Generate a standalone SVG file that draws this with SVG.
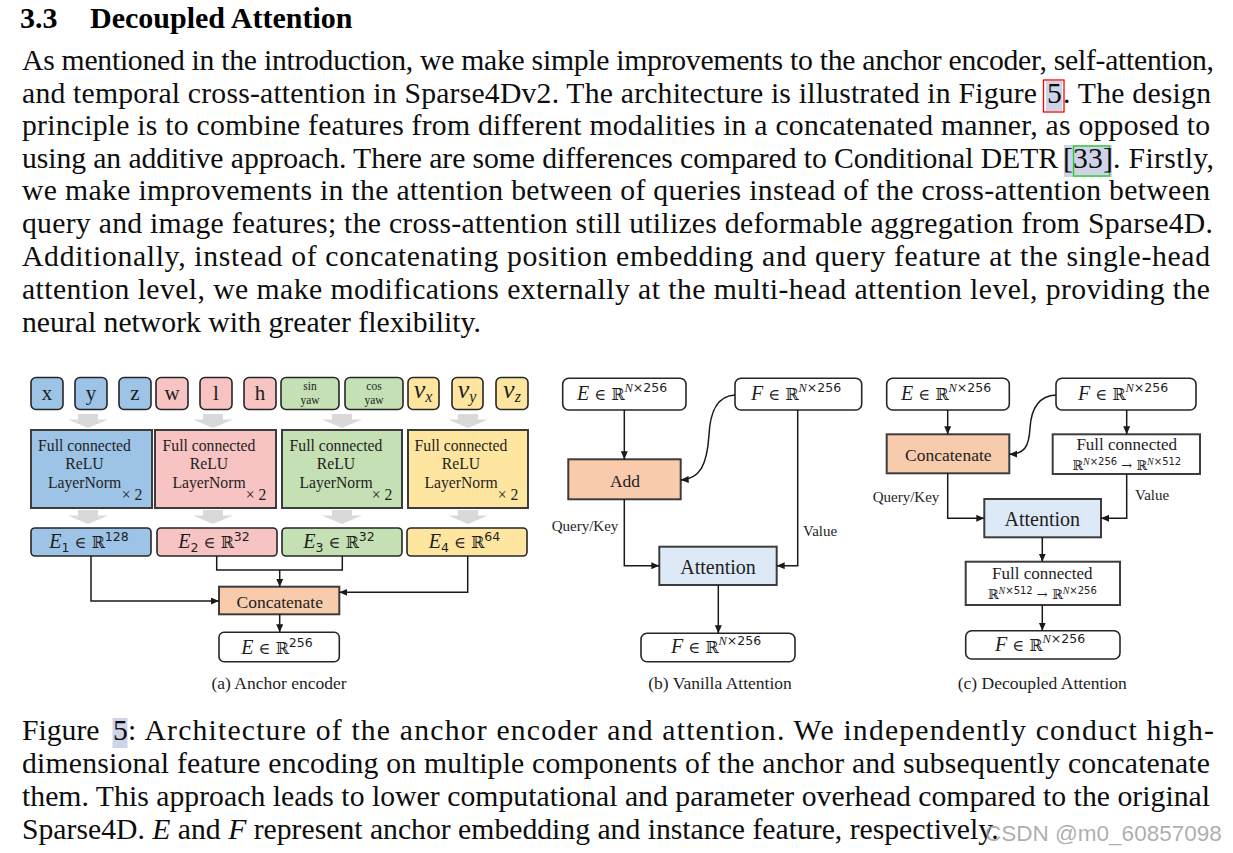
<svg xmlns="http://www.w3.org/2000/svg" width="1233" height="853" viewBox="0 0 1233 853">
<style>
.b{font-family:"Liberation Serif",serif;font-size:29.7px;fill:#0d0d0d}
.hd{font-family:"Liberation Serif",serif;font-size:30px;font-weight:bold;fill:#000}
.it{font-style:italic}
.t{font-family:"Liberation Serif",serif;fill:#1e1e1e}
.lbl{font-size:21px;text-anchor:middle}
.sy{font-size:11.5px;text-anchor:middle}
.fc{font-size:15.7px;text-anchor:middle}
.cap{font-size:17.5px;text-anchor:middle}
.ql{font-size:15px}
.mt{font-family:"DejaVu Serif",serif;font-size:16px;fill:#1e1e1e}
.mts{font-family:"DejaVu Serif",serif;font-size:13px;fill:#1e1e1e}
.mi{font-family:"Liberation Serif",serif;font-style:italic;font-size:20px}
.sup{font-family:"DejaVu Sans",sans-serif;font-size:12.5px}
.sups{font-family:"DejaVu Sans",sans-serif;font-size:10px}
.supi{font-family:"Liberation Serif",serif;font-style:italic}
.v{font-family:"Liberation Serif",serif;font-style:italic;font-size:26px;fill:#1e1e1e;text-anchor:middle}
.vs{font-size:16px}
.rb{stroke:#262626;stroke-width:1.6}
.sq{stroke:#3c3c3c;stroke-width:2}
.blue{fill:#9dc3e6}.pink{fill:#f7c3c3}.green{fill:#c5e0b4}.yel{fill:#ffe6a0}
.org{fill:#f8cbad}.att{fill:#dde9f6}.wh{fill:#fff}
.gar{fill:#d9d9d9}
.e{fill:none;stroke:#1a1a1a;stroke-width:1.5;marker-end:url(#ah)}
.ln{fill:none;stroke:#1a1a1a;stroke-width:1.5}
.hl{fill:#cfd3e8}
.wm{font-family:"Liberation Sans",sans-serif;font-size:22.5px;fill:#a0a0a0;fill-opacity:0.85}
</style>
<defs>
<marker id="ah" markerUnits="userSpaceOnUse" markerWidth="9" markerHeight="8" refX="8" refY="3.5" orient="auto"><path d="M0,0 L8,3.5 L0,7 Z" fill="#1a1a1a"/></marker>
<path id="garrow" d="M-10,0 H10 V5.5 H20 L0,14 L-20,5.5 H-10 Z"/>
</defs>
<rect width="1233" height="853" fill="#fff"/>

<g id="text-body">
<text class="hd" x="20" y="28">3.3</text>
<text class="hd" x="90" y="28">Decoupled Attention</text>
<text class="b" x="22" y="70" textLength="1192" lengthAdjust="spacing">As mentioned in the introduction, we make simple improvements to the anchor encoder, self-attention,</text>
<text class="b" x="22" y="103" textLength="1015" lengthAdjust="spacing">and temporal cross-attention in Sparse4Dv2. The architecture is illustrated in Figure</text>
<rect class="hl" x="1046" y="81" width="16" height="30"/>
<rect x="1043.5" y="80" width="20.5" height="32" fill="none" stroke="#ff0000" stroke-width="1.3"/>
<text class="b" x="1047" y="103">5</text>
<text class="b" x="1063" y="103" textLength="148" lengthAdjust="spacing">. The design</text>
<text class="b" x="22" y="135" textLength="1188" lengthAdjust="spacing">principle is to combine features from different modalities in a concatenated manner, as opposed to</text>
<text class="b" x="22" y="168" textLength="1036" lengthAdjust="spacing">using an additive approach. There are some differences compared to Conditional DETR</text>
<rect class="hl" x="1064" y="145" width="48" height="32"/>
<rect x="1073.5" y="146" width="36" height="30" fill="none" stroke="#22cc22" stroke-width="1.3"/>
<text class="b" x="1063" y="168" textLength="50" lengthAdjust="spacing">[33]</text>
<text class="b" x="1113" y="168" textLength="101" lengthAdjust="spacing">. Firstly,</text>
<text class="b" x="22" y="200" textLength="1188" lengthAdjust="spacing">we make improvements in the attention between of queries instead of the cross-attention between</text>
<text class="b" x="22" y="233" textLength="1191" lengthAdjust="spacing">query and image features; the cross-attention still utilizes deformable aggregation from Sparse4D.</text>
<text class="b" x="22" y="266" textLength="1188" lengthAdjust="spacing">Additionally, instead of concatenating position embedding and query feature at the single-head</text>
<text class="b" x="22" y="299" textLength="1188" lengthAdjust="spacing">attention level, we make modifications externally at the multi-head attention level, providing the</text>
<text class="b" x="22" y="332">neural network with greater flexibility.</text>
</g>

<g id="anchor-encoder">
<g id="in-x"><rect class="rb blue" x="31" y="377.5" width="32" height="32" rx="5"/><text class="t lbl" x="47" y="400">x</text></g>
<g id="in-y"><rect class="rb blue" x="75" y="377.5" width="32" height="32" rx="5"/><text class="t lbl" x="91" y="400">y</text></g>
<g id="in-z"><rect class="rb blue" x="119" y="377.5" width="32" height="32" rx="5"/><text class="t lbl" x="135" y="400">z</text></g>
<g id="in-w"><rect class="rb pink" x="156" y="377.5" width="32" height="32" rx="5"/><text class="t lbl" x="172" y="400">w</text></g>
<g id="in-l"><rect class="rb pink" x="200" y="377.5" width="32" height="32" rx="5"/><text class="t lbl" x="216" y="400">l</text></g>
<g id="in-h"><rect class="rb pink" x="244" y="377.5" width="32" height="32" rx="5"/><text class="t lbl" x="260" y="400">h</text></g>
<g id="in-sin"><rect class="rb green" x="281" y="377.5" width="58" height="32" rx="5"/><text class="t sy" x="310" y="390">sin</text><text class="t sy" x="310" y="404">yaw</text></g>
<g id="in-cos"><rect class="rb green" x="345" y="377.5" width="58" height="32" rx="5"/><text class="t sy" x="374" y="390">cos</text><text class="t sy" x="374" y="404">yaw</text></g>
<g id="in-vx"><rect class="rb yel" x="408" y="377.5" width="31" height="32" rx="5"/><text class="v" x="423" y="398">v<tspan class="vs" dy="4">x</tspan></text></g>
<g id="in-vy"><rect class="rb yel" x="452" y="377.5" width="31" height="32" rx="5"/><text class="v" x="467" y="398">v<tspan class="vs" dy="4">y</tspan></text></g>
<g id="in-vz"><rect class="rb yel" x="496" y="377.5" width="32" height="32" rx="5"/><text class="v" x="512" y="398">v<tspan class="vs" dy="4">z</tspan></text></g>

<g id="gray-arrows" class="gar">
<use href="#garrow" x="88" y="414"/><use href="#garrow" x="213" y="414"/><use href="#garrow" x="342" y="414"/><use href="#garrow" x="468" y="414"/>
<use href="#garrow" x="88" y="510"/><use href="#garrow" x="213" y="510"/><use href="#garrow" x="342" y="510"/><use href="#garrow" x="468" y="510"/>
</g>

<g id="fc-1"><rect class="sq blue" x="31" y="430" width="121" height="78"/>
<text class="t fc" x="84.5" y="451">Full connected</text><text class="t fc" x="84.5" y="469">ReLU</text><text class="t fc" x="84.5" y="488">LayerNorm</text><text class="t fc" x="132" y="500">× 2</text></g>
<g id="fc-2"><rect class="sq pink" x="155" y="430" width="121" height="78"/>
<text class="t fc" x="209" y="451">Full connected</text><text class="t fc" x="209" y="469">ReLU</text><text class="t fc" x="209" y="488">LayerNorm</text><text class="t fc" x="256" y="500">× 2</text></g>
<g id="fc-3"><rect class="sq green" x="282" y="430" width="120" height="78"/>
<text class="t fc" x="336" y="451">Full connected</text><text class="t fc" x="336" y="469">ReLU</text><text class="t fc" x="336" y="488">LayerNorm</text><text class="t fc" x="382" y="500">× 2</text></g>
<g id="fc-4"><rect class="sq yel" x="408" y="430" width="120" height="78"/>
<text class="t fc" x="461" y="451">Full connected</text><text class="t fc" x="461" y="469">ReLU</text><text class="t fc" x="461" y="488">LayerNorm</text><text class="t fc" x="508" y="500">× 2</text></g>

<g id="e1"><rect class="rb blue" x="31" y="528" width="120" height="28" rx="4"/>
<text class="mt" x="89" y="548" text-anchor="middle"><tspan class="mi">E</tspan><tspan class="sup" dy="4">1</tspan><tspan dy="-4"> ∈ ℝ</tspan><tspan class="sup" dy="-7">128</tspan></text></g>
<g id="e2"><rect class="rb pink" x="157" y="528" width="120" height="28" rx="4"/>
<text class="mt" x="214" y="548" text-anchor="middle"><tspan class="mi">E</tspan><tspan class="sup" dy="4">2</tspan><tspan dy="-4"> ∈ ℝ</tspan><tspan class="sup" dy="-7">32</tspan></text></g>
<g id="e3"><rect class="rb green" x="282" y="528" width="120" height="28" rx="4"/>
<text class="mt" x="339" y="548" text-anchor="middle"><tspan class="mi">E</tspan><tspan class="sup" dy="4">3</tspan><tspan dy="-4"> ∈ ℝ</tspan><tspan class="sup" dy="-7">32</tspan></text></g>
<g id="e4"><rect class="rb yel" x="407" y="528" width="120" height="28" rx="4"/>
<text class="mt" x="464.5" y="548" text-anchor="middle"><tspan class="mi">E</tspan><tspan class="sup" dy="4">4</tspan><tspan dy="-4"> ∈ ℝ</tspan><tspan class="sup" dy="-7">64</tspan></text></g>

<g id="concat-a"><rect class="sq org" x="219" y="586.7" width="120.3" height="27.6" stroke-width="1.8"/>
<text class="t" x="279.7" y="608" font-size="17.5" text-anchor="middle">Concatenate</text></g>
<g id="e-out"><rect class="rb wh" x="219" y="632.3" width="120.3" height="29.4" rx="5"/>
<text class="mt" x="277" y="654" text-anchor="middle"><tspan class="mi">E</tspan> ∈ ℝ<tspan class="sup" dy="-7">256</tspan></text></g>
<text class="t cap" x="279" y="689">(a) Anchor encoder</text>
</g>

<g id="vanilla">
<g id="b-e"><rect class="rb wh" x="562.7" y="378.3" width="123.3" height="31.7" rx="6"/>
<text class="mt" x="622" y="400" text-anchor="middle"><tspan class="mi">E</tspan> ∈ ℝ<tspan class="sup" dy="-8"><tspan class="supi">N</tspan>×256</tspan></text></g>
<g id="b-f"><rect class="rb wh" x="735" y="378.3" width="126.7" height="31.7" rx="6"/>
<text class="mt" x="796" y="400" text-anchor="middle"><tspan class="mi">F</tspan> ∈ ℝ<tspan class="sup" dy="-8"><tspan class="supi">N</tspan>×256</tspan></text></g>
<g id="b-add"><rect class="sq org" x="568.3" y="459.3" width="112.4" height="40" stroke-width="1.8"/>
<text class="t" x="625" y="486.5" font-size="17.5" text-anchor="middle">Add</text></g>
<g id="b-att"><rect class="sq att" x="659.3" y="546.7" width="117.4" height="38.3" stroke-width="1.8"/>
<text class="t" x="718" y="573.5" font-size="20" text-anchor="middle">Attention</text></g>
<g id="b-out"><rect class="rb wh" x="641" y="633.3" width="154" height="28.4" rx="6"/>
<text class="mt" x="716" y="653" text-anchor="middle"><tspan class="mi">F</tspan> ∈ ℝ<tspan class="sup" dy="-8"><tspan class="supi">N</tspan>×256</tspan></text></g>
<text class="t ql" x="551.7" y="531">Query/Key</text>
<text class="t ql" x="803" y="535.5">Value</text>
<text class="t cap" x="720" y="689">(b) Vanilla Attention</text>
</g>

<g id="decoupled">
<g id="c-e"><rect class="rb wh" x="886.7" y="378.3" width="122.6" height="31.7" rx="6"/>
<text class="mt" x="946" y="400" text-anchor="middle"><tspan class="mi">E</tspan> ∈ ℝ<tspan class="sup" dy="-8"><tspan class="supi">N</tspan>×256</tspan></text></g>
<g id="c-f"><rect class="rb wh" x="1056" y="378.3" width="140" height="31.7" rx="6"/>
<text class="mt" x="1123" y="400" text-anchor="middle"><tspan class="mi">F</tspan> ∈ ℝ<tspan class="sup" dy="-8"><tspan class="supi">N</tspan>×256</tspan></text></g>
<g id="c-concat"><rect class="sq org" x="886.7" y="434.3" width="122.6" height="39" stroke-width="1.8"/>
<text class="t" x="948.3" y="461" font-size="17.5" text-anchor="middle">Concatenate</text></g>
<g id="c-fc1"><rect class="sq wh" x="1052.7" y="434.3" width="147.3" height="39.7" stroke-width="1.8"/>
<text class="t" x="1126.7" y="449.5" font-size="17" text-anchor="middle">Full connected</text>
<text class="mts" x="1126.7" y="470" text-anchor="middle">ℝ<tspan class="sups" dy="-5"><tspan class="supi">N</tspan>×256</tspan><tspan dy="5"> → ℝ</tspan><tspan class="sups" dy="-5"><tspan class="supi">N</tspan>×512</tspan></text></g>
<g id="c-att"><rect class="sq att" x="984.3" y="499" width="116.7" height="38.3" stroke-width="1.8"/>
<text class="t" x="1042.3" y="526" font-size="20" text-anchor="middle">Attention</text></g>
<g id="c-fc2"><rect class="sq wh" x="965.7" y="561.7" width="154.3" height="43.3" stroke-width="1.8"/>
<text class="t" x="1042.3" y="579" font-size="17" text-anchor="middle">Full connected</text>
<text class="mts" x="1042.3" y="599" text-anchor="middle">ℝ<tspan class="sups" dy="-5"><tspan class="supi">N</tspan>×512</tspan><tspan dy="5"> → ℝ</tspan><tspan class="sups" dy="-5"><tspan class="supi">N</tspan>×256</tspan></text></g>
<g id="c-out"><rect class="rb wh" x="965.7" y="630.7" width="154.3" height="28.3" rx="6"/>
<text class="mt" x="1040" y="651" text-anchor="middle"><tspan class="mi">F</tspan> ∈ ℝ<tspan class="sup" dy="-8"><tspan class="supi">N</tspan>×256</tspan></text></g>
<text class="t ql" x="872.7" y="502">Query/Key</text>
<text class="t ql" x="1135" y="500">Value</text>
<text class="t cap" x="1042.3" y="689">(c) Decoupled Attention</text>
</g>

<g id="connectors">
<path class="e" d="M91 556 V601 H219"/>
<path class="ln" d="M216.7 556 V570 H342.3 V556"/>
<path class="e" d="M279.7 570 V586.7"/>
<path class="e" d="M467.7 556 V592.3 H339.3"/>
<path class="e" d="M279.7 614.3 V632.3"/>
<path class="e" d="M624.3 410 V459.3"/>
<path class="e" d="M735 395 C 715 396, 710 415, 709 435 C 707 465, 700 479, 680.7 480"/>
<path class="e" d="M797.7 410 V565.7 H776.7"/>
<path class="e" d="M624.3 499.3 V565.7 H659.3"/>
<path class="e" d="M718.3 585 V633.3"/>
<path class="e" d="M947.7 410 V434.3"/>
<path class="e" d="M1126.7 410 V434.3"/>
<path class="e" d="M1056 395 C 1036 396, 1031 412, 1030 428 C 1029 446, 1025 454, 1009.3 454.3"/>
<path class="e" d="M947.7 473.3 V518.3 H984.3"/>
<path class="e" d="M1126.7 474 V518.3 H1101"/>
<path class="e" d="M1042.3 537.3 V561.7"/>
<path class="e" d="M1042.3 605 V630.7"/>
</g>

<g id="caption">
<text class="b" x="22" y="740">Figure</text>
<rect class="hl" x="112.5" y="718" width="15" height="30"/>
<text class="b" x="113" y="740">5</text>
<text class="b" x="128" y="740" textLength="1086" lengthAdjust="spacing">:  Architecture of the anchor encoder and attention.  We independently conduct high-</text>
<text class="b" x="22" y="773" textLength="1188" lengthAdjust="spacing">dimensional feature encoding on multiple components of the anchor and subsequently concatenate</text>
<text class="b" x="22" y="806" textLength="1188" lengthAdjust="spacing">them. This approach leads to lower computational and parameter overhead compared to the original</text>
<text class="b" x="22" y="839">Sparse4D. <tspan class="it">E</tspan> and <tspan class="it">F</tspan> represent anchor embedding and instance feature, respectively.</text>
<text class="wm" x="985" y="841">CSDN @m0_60857098</text>
</g>
</svg>
